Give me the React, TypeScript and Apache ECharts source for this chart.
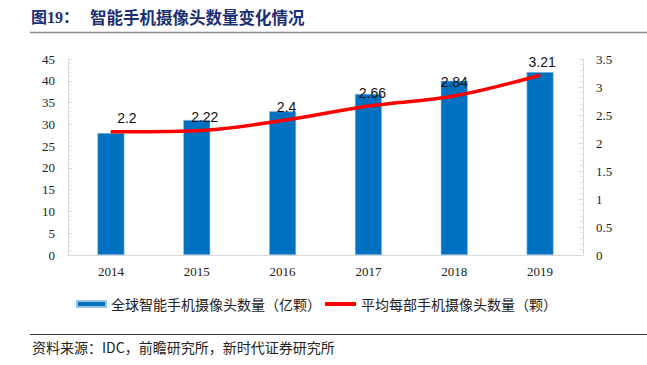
import React, { useEffect, useRef } from "react";
import * as echarts from "echarts";

const years = ["2014", "2015", "2016", "2017", "2018", "2019"];
const cameraTotal = [28, 31, 33, 37, 40, 42];
const camerasPerPhone = [2.2, 2.22, 2.4, 2.66, 2.84, 3.21];
const leftTicks = [0, 45, 5];
const rightTicks = [0, 3.5, 0.5];
const barName = "全球智能手机摄像头数量（亿颗）";
const lineName = "平均每部手机摄像头数量（颗）";
const titleNo = "图19：";
const titleText = "智能手机摄像头数量变化情况";
const sourceText = "资料来源：IDC，前瞻研究所，新时代证券研究所";
const labelOffsets = [[16, 0], [8, 0], [4, 0], [4, 0], [0, 0], [2, 0]];

export default function App() {
  const ref = useRef<HTMLDivElement>(null);
  useEffect(() => {
    const chart = echarts.init(ref.current!, undefined, { renderer: "svg" });
    const serif = "'Liberation Serif', 'Times New Roman', serif";
    const cjk = "'Noto Sans CJK SC', sans-serif";
    chart.setOption({
      animation: false,
      backgroundColor: "#ffffff",
      grid: { left: 68, right: 64, top: 59, bottom: 110, containLabel: false },
      graphic: [
        {
          type: "text",
          left: 31,
          top: 9,
          style: { text: titleNo, fill: "#1B2F72", font: "bold 16px 'Liberation Serif', 'Noto Sans CJK SC', serif" },
        },
        {
          type: "text",
          left: 90,
          top: 9,
          style: { text: titleText, fill: "#1B2F72", font: "bold 16.5px 'Noto Sans CJK SC', sans-serif" },
        },
        {
          type: "line",
          shape: { x1: 30, y1: 32.5, x2: 647, y2: 32.5 },
          style: { stroke: "#8C8C8C", lineWidth: 1.5 },
        },
        {
          type: "line",
          shape: { x1: 30, y1: 334.5, x2: 647, y2: 334.5 },
          style: { stroke: "#333333", lineWidth: 1 },
        },
        {
          type: "text",
          left: 32,
          top: 340,
          style: { text: sourceText, fill: "#222222", font: "14px 'Noto Sans CJK SC', 'Liberation Serif', sans-serif" },
        },
      ],
      legend: [
        {
          data: [{ name: barName, icon: "rect" }],
          left: 71,
          top: 292,
          itemWidth: 29,
          itemHeight: 6,
          textStyle: { fontFamily: cjk, fontSize: 14, color: "#222" },
        },
        {
          data: [{ name: lineName, icon: "rect" }],
          left: 320,
          top: 292,
          itemWidth: 31,
          itemHeight: 4,
          textStyle: { fontFamily: cjk, fontSize: 14, color: "#222" },
        },
      ],
      xAxis: {
        type: "category",
        data: years,
        axisLine: { show: true, lineStyle: { color: "#D9D9D9", width: 1 } },
        axisTick: { show: false },
        axisLabel: { fontFamily: serif, fontSize: 13, color: "#222", margin: 10 },
      },
      yAxis: [
        {
          type: "value",
          min: leftTicks[0],
          max: leftTicks[1],
          interval: leftTicks[2],
          axisLine: { show: true, lineStyle: { color: "#D9D9D9" } },
          axisTick: { show: true, inside: true, length: 4, lineStyle: { color: "#D9D9D9" } },
          minorTick: { show: true, splitNumber: 5, length: 3, lineStyle: { color: "#E3E3E3" } },
          splitLine: { show: false },
          axisLabel: { fontFamily: serif, fontSize: 13, color: "#222", margin: 13 },
        },
        {
          type: "value",
          min: rightTicks[0],
          max: rightTicks[1],
          interval: rightTicks[2],
          position: "right",
          axisLine: { show: true, lineStyle: { color: "#D9D9D9" } },
          axisTick: { show: true, inside: true, length: 4, lineStyle: { color: "#D9D9D9" } },
          minorTick: { show: true, splitNumber: 5, length: 3, lineStyle: { color: "#E3E3E3" } },
          splitLine: { show: false },
          axisLabel: { fontFamily: serif, fontSize: 13, color: "#222", margin: 13 },
        },
      ],
      series: [
        {
          name: barName,
          type: "bar",
          data: cameraTotal,
          yAxisIndex: 0,
          barWidth: 27,
          itemStyle: { color: "#0070C0", borderColor: "#9CC3E5", borderWidth: 0.6 },
        },
        {
          name: lineName,
          type: "line",
          data: camerasPerPhone.map((v, i) => ({
            value: v,
            label: { offset: labelOffsets[i] },
          })),
          yAxisIndex: 1,
          smooth: 0.35,
          showSymbol: true,
          symbol: "circle",
          symbolSize: 1,
          lineStyle: { color: "#FF0000", width: 3.5 },
          itemStyle: { color: "#FF0000" },
          label: {
            show: true,
            position: "top",
            distance: 6,
            fontFamily: "'Liberation Sans', 'Open Sans', sans-serif",
            fontSize: 14,
            color: "#111",
          },
        },
      ],
    });
    return () => chart.dispose();
  }, []);
  return (
    <div
      ref={ref}
      style={{ position: "fixed", left: 0, top: 0, width: 647, height: 365, background: "#fff" }}
    />
  );
}
